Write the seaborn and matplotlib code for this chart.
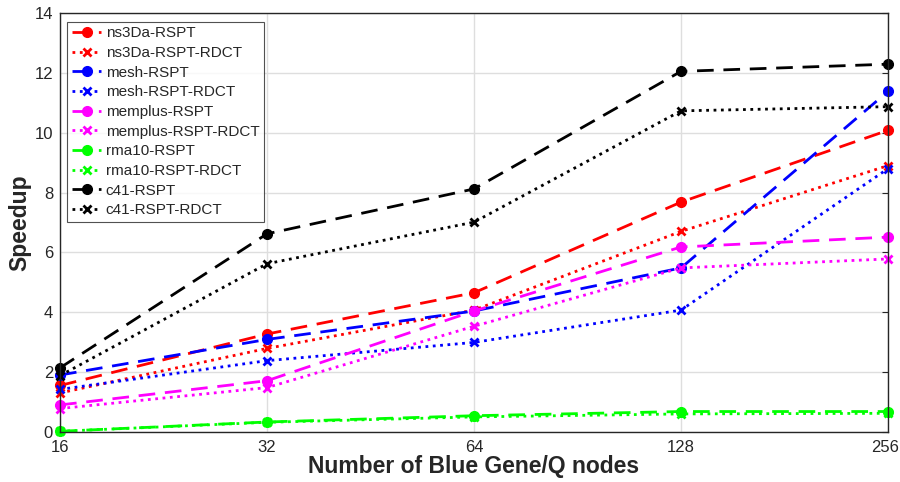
import pandas as pd
import matplotlib
matplotlib.use("Agg")
import matplotlib.pyplot as plt
import matplotlib.transforms as mtransforms
import seaborn as sns
from matplotlib.ticker import FixedLocator, NullLocator

# Node counts on the x axis
nodes = [16, 32, 64, 128, 256]

# Speedup values
ns3da_rspt = [1.55, 3.27, 4.65, 7.68, 10.08]
ns3da_rdct = [1.3, 2.79, 4.07, 6.7, 8.9]
mesh_rspt = [1.9, 3.09, 4.04, 5.48, 11.38]
mesh_rdct = [1.42, 2.38, 2.99, 4.07, 8.8]
memplus_rspt = [0.9, 1.71, 4.04, 6.18, 6.51]
memplus_rdct = [0.78, 1.48, 3.53, 5.48, 5.78]
rma10_rspt = [0.02, 0.33, 0.54, 0.68, 0.68]
rma10_rdct = [0.02, 0.32, 0.5, 0.6, 0.62]
c41_rspt = [2.14, 6.62, 8.12, 12.05, 12.29]
c41_rdct = [1.88, 5.62, 7.01, 10.73, 10.87]

series_names = ["ns3Da-RSPT", "ns3Da-RSPT-RDCT", "mesh-RSPT", "mesh-RSPT-RDCT",
                "memplus-RSPT", "memplus-RSPT-RDCT", "rma10-RSPT", "rma10-RSPT-RDCT",
                "c41-RSPT", "c41-RSPT-RDCT"]
series_values = [ns3da_rspt, ns3da_rdct, mesh_rspt, mesh_rdct, memplus_rspt,
                 memplus_rdct, rma10_rspt, rma10_rdct, c41_rspt, c41_rdct]
colors = ["#ff0000", "#ff0000", "#0000ff", "#0000ff", "#ff00ff", "#ff00ff",
          "#00ff00", "#00ff00", "#000000", "#000000"]

rows = []
for name, vals in zip(series_names, series_values):
    for n, v in zip(nodes, vals):
        rows.append({"series": name, "nodes": n, "speedup": v})
df = pd.DataFrame(rows)

sns.set_style("white")
plt.rcParams["font.family"] = ["Liberation Sans", "DejaVu Sans"]

fig = plt.figure(figsize=(9, 4.82), dpi=100)
ax = fig.add_axes([0.0667, 0.104, 0.92, 0.869])

for name, col in zip(series_names, colors):
    rdct = name.endswith("RDCT")
    sub = df[df["series"] == name]
    sns.lineplot(data=sub, x="nodes", y="speedup", ax=ax, color=col,
                 linestyle=":" if rdct else (0, (6, 3.5)),
                 marker="x" if rdct else "o",
                 markersize=6 if rdct else 7, markeredgewidth=2 if rdct else 1,
                 markeredgecolor=col, markerfacecolor=col,
                 linewidth=2, label=name, clip_on=False)

ax.set_xscale("log", base=2)
ax.set_xlim(16, 256)
ax.set_ylim(0, 14)
ax.xaxis.set_major_locator(FixedLocator(nodes))
ax.xaxis.set_minor_locator(NullLocator())
ax.set_xticklabels([str(n) for n in nodes])
ax.set_yticks(range(0, 15, 2))
ax.grid(True, color="#dedede", linewidth=1)
ax.set_axisbelow(True)
for sp in ax.spines.values():
    sp.set_color("#262626")
    sp.set_linewidth(1)
ax.tick_params(direction="in", length=4.5, width=0.8, top=False, right=True,
               labelsize=12, colors="#262626", pad=5)
ax.tick_params(axis="x", pad=6)

# keep the last x label inside the figure, as in the reference
last = ax.get_xticklabels()[-1]
last.set_transform(last.get_transform() +
                   mtransforms.ScaledTranslation(-3 / 100, 0, fig.dpi_scale_trans))

ax.set_xlabel("Number of Blue Gene/Q nodes", fontsize=16.5, fontweight="bold",
              color="#262626", labelpad=0)
ax.set_ylabel("Speedup", fontsize=16.5, fontweight="bold",
              color="#262626", labelpad=2)

leg = ax.legend(loc="upper left", bbox_to_anchor=(0.009, 0.979), fontsize=11,
                frameon=True, fancybox=False, edgecolor="#262626",
                handlelength=1.9, handletextpad=0.3, labelspacing=0.37,
                borderpad=0.3, borderaxespad=0)
leg.get_frame().set_linewidth(0.8)

fig.savefig("out.png", dpi=100)
